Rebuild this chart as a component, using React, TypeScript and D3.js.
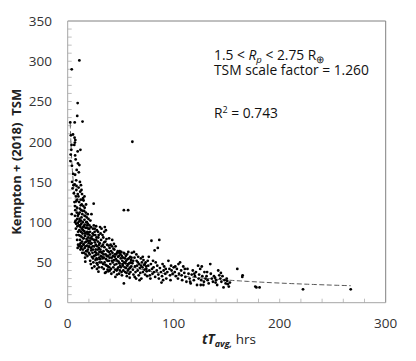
import * as d3 from 'd3'

// tT_avg (hrs) vs Kempton+ (2018) TSM
const pointsUnder10: [number, number][] = [
  [2.4, 224], [2.6, 176], [3.8, 290], [3.4, 190], [3, 208], [4.2, 150], [3.8, 110], [4.6, 142],
  [5, 209], [5.4, 146], [5.8, 136], [5.2, 160], [4, 170], [3.6, 196], [2.8, 184],
  [6.6, 224], [6.5, 205], [6.8, 199], [7.2, 202], [6.2, 196], [7, 183], [7.5, 178], [8.5, 165],
  [7, 159], [6.6, 147], [8, 152], [9.4, 188], [9.7, 173], [9, 232], [9.4, 248], [8.2, 140],
  [7.8, 132], [9, 128], [6.4, 125], [8.8, 118], [9.5, 108], [7.5, 102], [8, 98], [9.2, 95],
  [7, 100], [8.6, 112], [6.8, 120], [9.8, 72], [9.4, 68], [8.9, 78], [9.8, 88], [9.5, 135],
  [8.3, 145], [7.2, 115], [9, 104], [7.7, 92], [8.4, 84], [6.9, 108], [9.6, 99], [8.1, 126],
]

const points10to20: [number, number][] = [
  [11, 301], [12, 190], [11, 171], [14, 225], [10.5, 162], [11.5, 150], [12.5, 146], [13, 140],
  [10.3, 143], [11.8, 138], [13.5, 135], [14.5, 130], [12.2, 128], [10.8, 125], [13.2, 122],
  [14.8, 120], [11.4, 117], [12.8, 115], [10.2, 110], [13.8, 110], [11.2, 104], [12.6, 102],
  [14.2, 100], [10.6, 96], [12, 94], [13.4, 92], [11, 90], [12.4, 88], [14, 86], [10.4, 84],
  [13, 82], [14.6, 80], [11.6, 78], [12.2, 74], [13.6, 76], [10.8, 70], [12.8, 68], [14.4, 66],
  [11.4, 72], [13.2, 70], [12, 66], [13, 106], [14.7, 94], [10.1, 132], [11.3, 112], [12.9, 98],
  [14.1, 114], [13.7, 62], [14.9, 73], [10.9, 101], [11.9, 83], [12.3, 121], [13.9, 128],
  [14.3, 90], [11.7, 96],
  [15, 127], [16, 118], [15.5, 114], [17, 112], [16.5, 108], [18, 106], [15.8, 103], [17.6, 100],
  [19, 98], [15.2, 95], [16.8, 93], [18.4, 96], [19.5, 92], [15.6, 89], [17.2, 87], [18.8, 85],
  [16.2, 83], [17.8, 79], [19.4, 81], [15, 72], [16.6, 75], [18.2, 71], [19.8, 74], [16, 68],
  [17.4, 64], [19, 66], [15.4, 62], [17, 60], [18.6, 58], [20, 62], [16.4, 56], [18, 100],
  [19.6, 104], [16, 97], [16.6, 51], [15.8, 132], [17.3, 122], [18.9, 110], [15.1, 80],
  [16.9, 70], [18.5, 88], [19.2, 77], [17.9, 93], [16.3, 86], [19.9, 69], [15.9, 108],
  [18.3, 64], [17.5, 76], [19.7, 87],
]

const points20to50: [number, number][] = [
  [24.5, 123], [25.5, 92], [20.5, 96], [21, 88], [21.5, 80], [22, 94], [22.5, 74], [23, 43],
  [23.5, 86], [24, 66], [24.8, 78], [25, 58], [26, 84], [26.5, 72], [27, 62], [27.5, 90],
  [28, 54], [28.5, 76], [29, 38.5], [29.5, 68], [20.2, 70], [20.8, 60], [21.2, 52], [21.8, 48],
  [22.2, 65], [22.8, 57], [23.2, 79], [23.8, 92], [24.2, 50], [25.2, 45], [25.8, 63], [26.2, 53],
  [26.8, 95], [27.2, 81], [27.8, 70], [28.2, 47], [28.8, 60], [29.2, 84], [29.8, 56], [20.6, 84],
  [21.4, 102], [22.4, 110], [23.6, 70], [24.6, 96], [25.6, 75], [26.6, 66], [27.6, 42], [28.6, 88],
  [29.6, 72], [30, 50], [21.6, 73], [22.6, 82], [23.4, 62], [24.4, 84], [26.4, 59], [27.4, 49],
  [28.4, 66], [29.4, 44], [20.4, 92], [25.4, 88], [26.9, 78], [23.9, 55], [22.1, 68], [28.9, 81],
  [21.1, 77], [24.9, 70], [27.1, 55], [29.9, 63],
  [30.5, 94], [31, 86], [31.5, 78], [32, 70], [32.5, 62], [33, 55], [33.5, 48], [34, 42],
  [34.5, 88], [35, 94], [35.5, 76], [36, 90], [36.5, 66], [37, 58], [37.5, 52], [38, 45],
  [38.5, 39], [39, 80], [39.5, 68], [40, 60], [30.2, 74], [30.8, 66], [31.2, 58], [31.8, 50],
  [32.2, 44], [32.8, 84], [33.2, 72], [33.8, 64], [34.2, 56], [34.8, 50], [35.2, 37], [35.8, 60],
  [36.2, 54], [36.8, 46], [37.2, 72], [37.8, 64], [38.2, 58], [38.8, 52], [39.2, 44], [39.8, 40],
  [31.4, 63], [32.6, 57], [33.6, 81], [34.6, 69], [36.6, 79], [38.6, 71], [30.6, 54], [35.6, 47],
  [37.6, 41], [39.6, 56], [33.9, 60], [31.9, 92], [36.3, 38], [38.9, 63], [34.4, 75],
  [40.5, 72], [41, 64], [41.5, 56], [42, 78], [42.5, 50], [43, 44], [43.5, 38], [44, 66],
  [44.5, 60], [45, 32], [45.5, 54], [46, 48], [46.5, 62], [47, 42], [47.5, 57], [48, 51],
  [48.5, 36], [49, 64], [49.5, 46], [50, 55], [40.2, 48], [40.8, 42], [41.2, 36], [41.8, 70],
  [42.2, 62], [42.8, 58], [43.2, 67], [43.8, 53], [44.2, 47], [44.8, 41], [45.2, 70], [45.8, 60],
  [46.2, 40], [46.8, 52], [47.2, 64], [47.8, 44], [48.2, 58], [48.8, 49], [49.2, 40], [49.8, 60],
  [43.6, 73], [46.6, 35], [41.6, 52], [48.6, 62], [44.4, 57],
]

const points50to100: [number, number][] = [
  [61, 200], [53, 115], [57, 115],
  [50.5, 63], [51, 58], [51.5, 52], [52, 46], [52.5, 40], [53, 24], [53.5, 61], [54, 55],
  [54.5, 49], [55, 43], [55.5, 37], [56, 60], [56.5, 54], [57, 48], [57.5, 42], [58, 36],
  [58.5, 31], [59, 57], [59.5, 50], [60, 45], [50.2, 44], [50.8, 38], [51.2, 34], [51.8, 48],
  [52.2, 56], [52.8, 62], [53.2, 50], [53.8, 44], [54.2, 38], [54.8, 58], [55.2, 52], [55.8, 33],
  [56.2, 46], [56.8, 40], [57.2, 63], [57.8, 55], [58.2, 49], [58.8, 43], [59.2, 38], [59.8, 53],
  [60.5, 62], [61, 49], [61.5, 41], [62, 35], [62.5, 63], [63, 56], [63.5, 45], [64, 38],
  [64.5, 30], [65, 52], [65.5, 46], [66, 40], [66.5, 57], [67, 34], [67.5, 48], [68, 43],
  [68.5, 37], [69, 55], [69.5, 30], [70, 50], [70.5, 44], [71, 38], [71.5, 53], [72, 47],
  [72.5, 41], [73, 35], [73.5, 50], [74, 45], [74.5, 39], [75, 33], [60.2, 56], [61.8, 52],
  [63.2, 32], [64.8, 60], [66.2, 50], [67.8, 28], [69.2, 46], [70.8, 57], [72.8, 48], [74.2, 42],
  [79, 77], [86.4, 78], [82, 65], [85, 68], [75.5, 52], [76, 46], [77, 40], [77.5, 34],
  [78, 30], [78.5, 48], [79.5, 42], [80, 36], [81, 44], [81.5, 38], [82.5, 32], [83, 50],
  [84, 40], [85.5, 35], [86, 30], [87, 43], [88, 38], [88.5, 25], [89, 33], [90, 28],
  [90.5, 40], [91, 45], [92, 36], [93, 30], [94, 38], [95, 52], [96, 42], [96.5, 34],
  [97, 28], [98, 40], [99, 36], [100, 44], [76.5, 57], [80.5, 52], [84.5, 46], [89.5, 48],
  [92.5, 42], [97.5, 46],
]

const pointsOver100: [number, number][] = [
  [101, 38], [102, 33], [103, 42], [104, 30], [105, 36], [106, 50], [107, 40], [107.5, 34],
  [108, 28], [109, 45], [110, 37], [111, 32], [112, 26], [113, 42], [114, 36], [115, 30],
  [116, 24], [117, 35], [118, 40], [119, 28], [120, 33], [121, 38], [122, 22], [123, 46],
  [123.5, 30], [124, 35], [125, 42], [125.5, 22], [126, 28], [127, 33], [128, 22], [129, 38],
  [130, 30], [101.5, 45], [104.5, 48], [110.5, 42], [115.5, 26], [119.5, 36], [126.5, 45],
  [128.5, 26],
  [131, 33], [132, 28], [133, 24], [134.5, 48], [135, 36], [136, 30], [137, 26], [138, 33],
  [139, 31], [140, 28], [141, 22], [142, 40], [143, 34], [144, 30], [145, 26], [146, 33],
  [147, 19], [148, 28], [149, 24], [150, 30], [150.5, 27], [151, 23], [152, 20], [153, 25],
  [160, 42], [164.7, 32], [165, 34], [131.5, 38], [139.5, 25], [144.5, 37],
  [177, 20], [178, 19], [181, 19], [222, 16.6], [267, 16.6],
]

// power-law trendline y = a * x^b
const FIT_A = 345
const FIT_B = -0.5
const FIT_RANGE = [2.4, 267]

const xLabels = [0, 100, 200, 300]
const yLabels = [0, 50, 100, 150, 200, 250, 300, 350]

const W = 416
const H = 361
const FONT = '"Open Sans", sans-serif'

export default function App() {
  const x = d3.scaleLinear().domain([0, 300]).range([67.7, 385.7])
  const y = d3.scaleLinear().domain([0, 350]).range([302.7, 21])
  const [x0, x1] = x.range()
  const [y0, y1] = y.range()

  const allPoints = [...pointsUnder10, ...points10to20, ...points20to50, ...points50to100, ...pointsOver100]

  const fitXs = d3.range(0, 201).map(i => FIT_RANGE[0] * Math.pow(FIT_RANGE[1] / FIT_RANGE[0], i / 200))
  const fitLine = d3.line<number>()
    .x(d => x(d))
    .y(d => y(FIT_A * Math.pow(d, FIT_B)))(fitXs)

  const xMinor = d3.range(20, 300, 20)
  const yMinor = d3.range(10, 350, 10)

  return (
    <svg width={W} height={H} style={{ position: 'absolute', left: 0, top: 0, background: '#fff' }} fontFamily={FONT}>
      {/* minor ticks, inside */}
      {xMinor.map(t => (
        <line key={'xt' + t} x1={x(t)} x2={x(t)} y1={y0} y2={y0 - 4} stroke="#bfbfbf" />
      ))}
      {yMinor.map(t => (
        <line key={'yt' + t} x1={x0} x2={x0 + 4} y1={y(t)} y2={y(t)} stroke="#bfbfbf" />
      ))}

      {/* plot frame */}
      <line x1={x0} x2={x1} y1={y1} y2={y1} stroke="#808080" />
      <line x1={x1} x2={x1} y1={y1} y2={y0} stroke="#808080" />
      <line x1={x0} x2={x0} y1={y1} y2={y0} stroke="#a6a6a6" />
      <line x1={x0} x2={x1} y1={y0} y2={y0} stroke="#a6a6a6" />

      <path d={fitLine ?? ''} fill="none" stroke="#595959" strokeWidth={1} strokeDasharray="5,2.5" />

      {allPoints.map(([px, py], i) => (
        <circle key={i} cx={x(px)} cy={y(py)} r={1.4} fill="#000" />
      ))}

      {xLabels.map(t => (
        <text key={'xl' + t} x={x(t)} y={328} textAnchor="middle" fontSize={13.5} fill="#333">{t}</text>
      ))}
      {yLabels.map(t => (
        <text key={'yl' + t} x={52} y={y(t) + 5} textAnchor="end" fontSize={13.5} fill="#333">{t}</text>
      ))}

      <text x={229} y={344} textAnchor="middle" fontSize={13.5} fill="#222">
        <tspan fontWeight="bold" fontStyle="italic">tT</tspan>
        <tspan fontSize={9} dy={3} fontWeight="bold" fontStyle="italic">avg,</tspan>
        <tspan dy={-3}> hrs</tspan>
      </text>

      <text transform={`translate(21,${(y0 + y1) / 2}) rotate(-90)`} textAnchor="middle" fontSize={13} fontWeight="bold" fill="#222">
        {'Kempton + (2018)\u00a0 TSM'}
      </text>

      <g fontSize={13.8} fill="#111">
        <text x={214} y={60}>
          {'1.5 < '}<tspan fontStyle="italic">R</tspan><tspan fontStyle="italic" fontSize={9.5} dy={3}>p</tspan><tspan dy={-3}>{' < 2.75 R'}</tspan><tspan fontSize={9.5} dy={3}>⊕</tspan>
        </text>
        <text x={214} y={74.5}>TSM scale factor = 1.260</text>
        <text x={214} y={118}>
          R<tspan fontSize={9} dy={-5}>2</tspan><tspan dy={5}> = 0.743</tspan>
        </text>
      </g>
    </svg>
  )
}
